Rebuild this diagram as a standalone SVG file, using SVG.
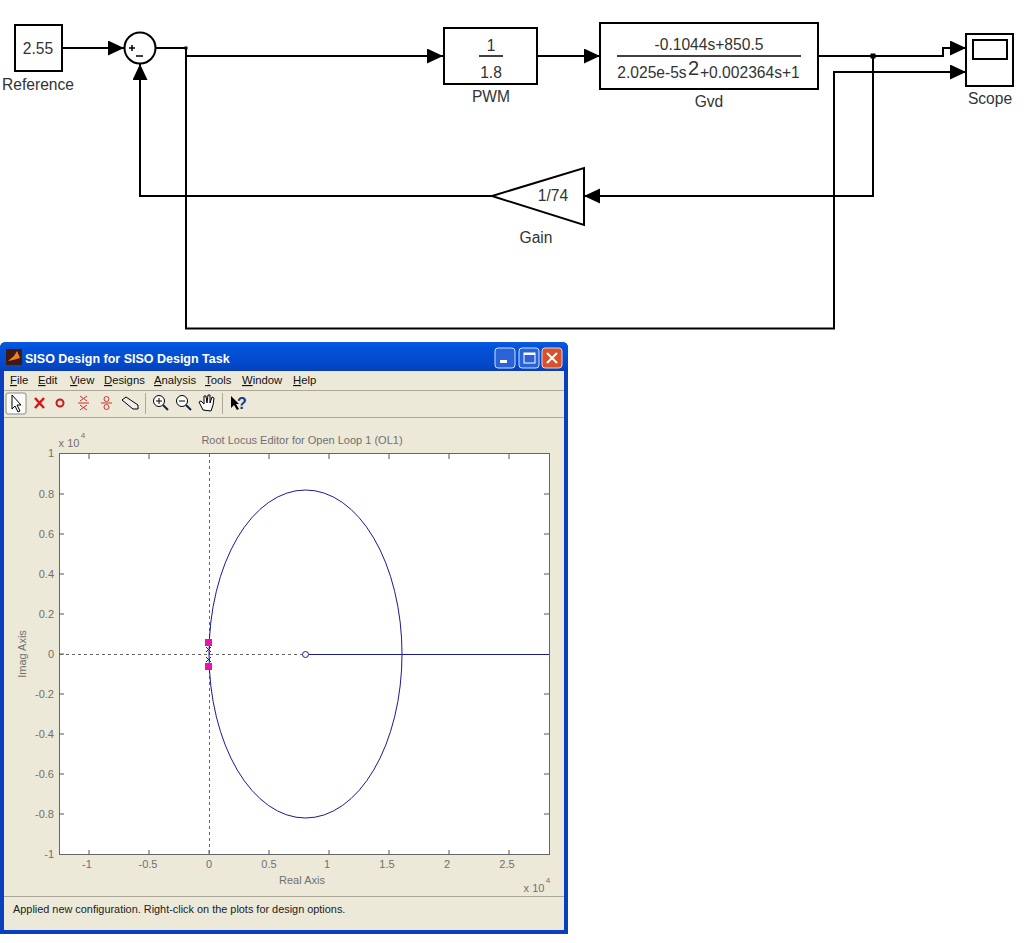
<svg xmlns="http://www.w3.org/2000/svg" width="1027" height="943" viewBox="0 0 1027 943">
<style>
text{font-family:"Liberation Sans",Arial,sans-serif}
.blk{fill:#fff;stroke:#000;stroke-width:2}
.lbl{font-size:15.6px;fill:#333;text-anchor:middle}
.wire{fill:none;stroke:#000;stroke-width:2}
.m{font-size:11.3px;fill:#111}
.t{font-size:11px;fill:#707070;text-anchor:middle}
.e{text-anchor:end}
.x{font-size:8px}
.tk{stroke:#555;stroke-width:1;fill:none}
.ico{fill:none;stroke:#c33;stroke-width:1}
</style>
<defs>
<marker id="ah" markerUnits="userSpaceOnUse" markerWidth="17" markerHeight="16" refX="16" refY="7.5" orient="auto"><path d="M0 0L16 7.5L0 15Z" fill="#000"/></marker>
<linearGradient id="tb" x1="0" y1="0" x2="0" y2="1"><stop offset="0" stop-color="#0a5ae0"/><stop offset=".15" stop-color="#0453dd"/><stop offset=".8" stop-color="#0348c8"/><stop offset="1" stop-color="#0a3fb0"/></linearGradient>
</defs>
<rect width="1027" height="943" fill="#fff"/>

<g id="connectors">
<path class="wire" d="M62 48H124" marker-end="url(#ah)"/>
<path class="wire" d="M156 48H186V328.500H834V72H966" marker-end="url(#ah)"/>
<path class="wire" d="M186 56H443" marker-end="url(#ah)"/>
<path class="wire" d="M537 56H600" marker-end="url(#ah)"/>
<path class="wire" d="M818 56H943V48H966" marker-end="url(#ah)"/>
<path class="wire" d="M873 56V196H584" marker-end="url(#ah)"/>
<path class="wire" d="M492 196H140V64" marker-end="url(#ah)"/>
<rect x="870.500" y="53.500" width="5" height="5" fill="#000"/>
<rect x="184.500" y="46.500" width="3" height="3" fill="#000"/>
</g>

<g id="reference"><rect class="blk" x="15" y="25" width="47" height="46"/><text class="lbl" x="38" y="54">2.55</text><text class="lbl" x="38" y="90">Reference</text></g>
<g id="sum"><circle class="blk" cx="140" cy="48" r="15.500"/><path d="M129 48h6M132 45v6M136 56h7" stroke="#000" stroke-width="1.500"/></g>
<g id="pwm"><rect class="blk" x="444" y="28" width="93" height="56"/><text class="lbl" x="491" y="51">1</text><path d="M479 56H503" stroke="#000" stroke-width="1.500"/><text class="lbl" x="491" y="78">1.8</text><text class="lbl" x="491" y="102">PWM</text></g>
<g id="gvd"><rect class="blk" x="600" y="23" width="218" height="66"/><text class="lbl" x="709" y="50">-0.1044s+850.5</text><path d="M617 56H801" stroke="#000" stroke-width="1.500"/><text class="lbl" x="652" y="78">2.025e-5s</text><text x="688" y="75" font-size="20" fill="#333">2</text><text x="700" y="78" font-size="15.600" fill="#333">+0.002364s+1</text><text class="lbl" x="709" y="107">Gvd</text></g>
<g id="scope"><rect class="blk" x="966" y="34" width="47" height="52"/><rect x="973" y="40" width="34" height="19" fill="#fff" stroke="#000" stroke-width="2"/><text class="lbl" x="990" y="104">Scope</text></g>
<g id="gain"><path class="blk" d="M584 168V225L492 196Z"/><text class="lbl" x="553" y="201">1/74</text><text class="lbl" x="536" y="243">Gain</text></g>

<g id="siso-window">
<path d="M0 348Q0 342 6 342H562Q568 342 568 348V934H0Z" fill="#0a3fc0"/>
<path d="M0 348Q0 342 6 342H562Q568 342 568 348V371H0Z" fill="url(#tb)"/>
<rect x="4" y="371" width="560" height="559" fill="#ece9d8"/>
<path d="M4 390.500H564M4 417.500H564M4 896.500H564" stroke="#aca899" fill="none"/>
<rect x="6" y="349" width="16" height="16" fill="#401a10"/><path d="M8 361L14 356L17 351L20 358L13 360Z" fill="#f08020"/>
<text x="25" y="363" font-size="12.500" font-weight="bold" fill="#fff">SISO Design for SISO Design Task</text>
<rect x="495" y="348" width="20" height="20" rx="3" fill="#2b62d8" stroke="#cfe0ff"/><rect x="500" y="360" width="7" height="3" fill="#fff"/>
<rect x="519" y="348" width="20" height="20" rx="3" fill="#2b62d8" stroke="#cfe0ff"/><rect x="524" y="353" width="11" height="10" fill="none" stroke="#fff"/><path d="M524 354h11" stroke="#fff" stroke-width="2"/>
<rect x="542" y="348" width="20" height="20" rx="3" fill="#d8512e" stroke="#f4d0c0"/><path d="M547 353L557 363M557 353L547 363" stroke="#fff" stroke-width="2"/>
<text class="m" x="10" y="384"><tspan text-decoration="underline">F</tspan>ile</text>
<text class="m" x="38" y="384"><tspan text-decoration="underline">E</tspan>dit</text>
<text class="m" x="70" y="384"><tspan text-decoration="underline">V</tspan>iew</text>
<text class="m" x="104" y="384"><tspan text-decoration="underline">D</tspan>esigns</text>
<text class="m" x="154" y="384"><tspan text-decoration="underline">A</tspan>nalysis</text>
<text class="m" x="205" y="384"><tspan text-decoration="underline">T</tspan>ools</text>
<text class="m" x="242" y="384"><tspan text-decoration="underline">W</tspan>indow</text>
<text class="m" x="293" y="384"><tspan text-decoration="underline">H</tspan>elp</text>
<rect x="6" y="393" width="20" height="21" rx="2" fill="#fbfbf8" stroke="#8a8a80"/>
<path d="M12 395V409L15 406L18 412L20 411L17 405H21Z" fill="#fff" stroke="#000"/>
<path d="M35 398L44 408M44 398L35 408" stroke="#d01818" stroke-width="2.500"/>
<circle cx="60" cy="403" r="3.500" fill="none" stroke="#d01818" stroke-width="2"/>
<path class="ico" d="M80 396L87 401M87 396L80 401M78 403H89M80 405L87 410M87 405L80 410"/>
<path class="ico" d="M101 403H112"/><circle class="ico" cx="106.500" cy="399" r="2.500"/><circle class="ico" cx="106.500" cy="407" r="2.500"/>
<path d="M122 400L126 397L138 405V409H133Z" fill="#eee" stroke="#000"/>
<path d="M145.500 393V414M222.500 393V414" stroke="#aca899"/>
<circle cx="159" cy="401" r="5.500" fill="#fff" stroke="#000"/><path d="M163 405L168 410" stroke="#124" stroke-width="2"/><path d="M156 401h6M159 398v6" stroke="#000"/>
<circle cx="182" cy="401" r="5.500" fill="#fff" stroke="#000"/><path d="M186 405L191 410" stroke="#124" stroke-width="2"/><path d="M179 401h6" stroke="#000"/>
<path d="M203 410L199 402L201 401L204 404L204 396L206 396L207 403L208 395L210 395L210 403L212 397L214 398L213 405L211 411Z" fill="#fff" stroke="#000"/>
<path d="M231 396V408L234 405L237 410L239 409L236 404H239Z" fill="#000"/>
<text x="237" y="409" font-size="16" font-weight="bold" fill="#123a8c">?</text>
<text x="13" y="913" font-size="10.900" fill="#222">Applied new configuration. Right-click on the plots for design options.</text>
</g>

<g id="root-locus">
<rect x="59.500" y="453.500" width="490" height="401" fill="#fff" stroke="#666"/>
<path class="tk" d="M89 855v-5M149 855v-5M209 855v-5M269 855v-5M329 855v-5M389 855v-5M449 855v-5M509 855v-5M89 454v5M149 454v5M269 454v5M329 454v5M389 454v5M449 454v5M509 454v5M59 494h5M59 534h5M59 574h5M59 614h5M59 654h5M59 694h5M59 734h5M59 774h5M59 814h5M549 494h-5M549 534h-5M549 574h-5M549 614h-5M549 694h-5M549 734h-5M549 774h-5M549 814h-5"/>
<path d="M209.500 454V855M60 654.500H305" stroke="#666" stroke-dasharray="3 3" fill="none"/>
<ellipse cx="305.500" cy="654" rx="96.500" ry="164" fill="none" stroke="#1a1a90"/>
<path d="M309 654.500H549" stroke="#1a1a90" fill="none"/>
<circle cx="305.500" cy="654.500" r="3" fill="#fff" stroke="#1a1a90"/>
<path d="M206 647L211 652M211 647L206 652M206 657L211 662M211 657L206 662" stroke="#1a1a90"/>
<rect x="205" y="639" width="7" height="7" fill="#ee10b0"/><rect x="205" y="663" width="7" height="7" fill="#ee10b0"/>
<text class="t" x="302" y="444">Root Locus Editor for Open Loop 1 (OL1)</text>
<text class="t" x="69" y="447">x 10</text><text class="t x" x="83" y="438">4</text>
<text class="t" x="87" y="868">-1</text><text class="t" x="148" y="868">-0.5</text><text class="t" x="209" y="868">0</text><text class="t" x="269" y="868">0.5</text><text class="t" x="327" y="868">1</text><text class="t" x="387" y="868">1.5</text><text class="t" x="447" y="868">2</text><text class="t" x="507" y="868">2.5</text>
<text class="t" x="302" y="884">Real Axis</text>
<text class="t" x="534" y="892">x 10</text><text class="t x" x="548" y="883">4</text>
<text class="t e" x="54" y="457">1</text>
<text class="t e" x="54" y="498">0.8</text><text class="t e" x="54" y="538">0.6</text><text class="t e" x="54" y="578">0.4</text><text class="t e" x="54" y="618">0.2</text><text class="t e" x="54" y="658">0</text><text class="t e" x="54" y="698">-0.2</text><text class="t e" x="54" y="738">-0.4</text><text class="t e" x="54" y="778">-0.6</text><text class="t e" x="54" y="818">-0.8</text><text class="t e" x="54" y="858">-1</text>
<text class="t" transform="translate(26 654) rotate(-90)">Imag Axis</text>
</g>
</svg>
